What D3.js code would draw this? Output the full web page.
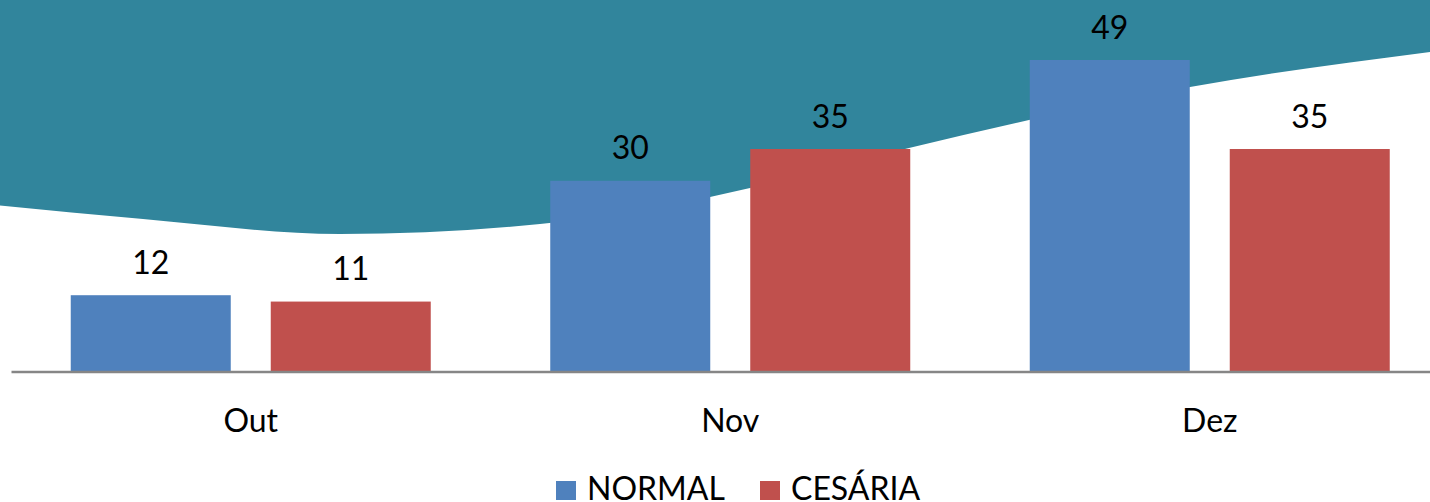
<!DOCTYPE html>
<html>

<head>
    <title>NORMAL x CESÁRIA</title>
    <script src="https://cdn.jsdelivr.net/npm/d3@7/dist/d3.min.js"></script>
    <style>
        body {
            margin: 0;
            background: #ffffff;
            overflow: hidden;
        }

        text {
            font-family: Lato, 'Open Sans', sans-serif;
            fill: #000000;
        }
    </style>
</head>

<body>
    <div id="visDiv"></div>
</body>
<script>
    /* Data */
    var months = ["Out", "Nov", "Dez"];
    var series = ["NORMAL", "CESÁRIA"];
    var normalValues = [12, 30, 49];
    var cesariaValues = [11, 35, 35];
    var colors = ["#4F81BD", "#C0504D"];

    // decorative wave behind the chart (lower edge of the teal band)
    var waveEdge = [[0, 205.5], [143, 219], [340, 234], [540, 224], [710, 197],
        [750, 188], [909, 148], [1029, 120], [1190, 87], [1430, 52]];

    /* Layout constants */
    var width = 1430, height = 502;
    var plot = { left: 11, right: 1449.5, bottom: 371.5 };

    var svg = d3.select("#visDiv")
        .append("svg")
        .attr("width", width)
        .attr("height", height);

    // background wave
    var edge = d3.line().curve(d3.curveMonotoneX);
    svg.append("path")
        .attr("fill", "#31859C")
        .attr("d", "M0,0L" + width + ",0" + edge(waveEdge.slice().reverse()).replace("M", "L") + "Z");

    /* Scales */
    var x0 = d3.scaleBand()
        .domain(months)
        .range([plot.left, plot.right]);
    var x1 = d3.scaleBand()
        .domain(series)
        .range([59.75, 419.75])
        .paddingInner(0.2);
    var y = d3.scaleLinear()
        .domain([0, 49])
        .range([plot.bottom, 60]);

    var rows = months.map(function (m, i) {
        return { month: m, values: [normalValues[i], cesariaValues[i]] };
    });

    /* Bars */
    var groups = svg.selectAll("g.month")
        .data(rows)
        .enter()
        .append("g")
        .attr("class", "month")
        .attr("transform", function (d) { return "translate(" + x0(d.month) + ",0)"; });

    groups.selectAll("rect")
        .data(function (d) { return d.values.map(function (v, j) { return { key: series[j], value: v, j: j }; }); })
        .enter()
        .append("rect")
        .attr("x", function (d) { return x1(d.key); })
        .attr("y", function (d) { return y(d.value); })
        .attr("width", x1.bandwidth())
        .attr("height", function (d) { return y(0) - y(d.value); })
        .attr("fill", function (d) { return colors[d.j]; });

    groups.selectAll("text.val")
        .data(function (d) { return d.values.map(function (v, j) { return { key: series[j], value: v }; }); })
        .enter()
        .append("text")
        .attr("class", "val")
        .attr("x", function (d) { return x1(d.key) + x1.bandwidth() / 2; })
        .attr("y", function (d) { return y(d.value) - 21.5; })
        .attr("text-anchor", "middle")
        .style("font-size", "32px")
        .text(function (d) { return d.value; });

    /* Axis */
    var xAxis = d3.axisBottom(x0).tickSize(0).tickPadding(0);
    var gx = svg.append("g")
        .attr("transform", "translate(0," + plot.bottom + ")")
        .call(xAxis);
    gx.select(".domain")
        .attr("stroke", "#868686")
        .attr("stroke-width", 2.5);
    gx.selectAll(".tick text")
        .attr("dy", null)
        .attr("y", 60)
        .style("font-family", "Lato, 'Open Sans', sans-serif")
        .style("font-size", "32px")
        .attr("fill", "#000");

    /* Legend */
    var legendX = [556, 760];
    var legend = svg.selectAll("g.legend")
        .data(series)
        .enter()
        .append("g")
        .attr("class", "legend")
        .attr("transform", function (d, i) { return "translate(" + legendX[i] + ",0)"; });
    legend.append("rect")
        .attr("x", 0)
        .attr("y", 481)
        .attr("width", 20)
        .attr("height", 19)
        .attr("fill", function (d, i) { return colors[i]; });
    legend.append("text")
        .attr("x", 31)
        .attr("y", 500)
        .style("font-size", "32px")
        .text(function (d) { return d; });
</script>

</html>
